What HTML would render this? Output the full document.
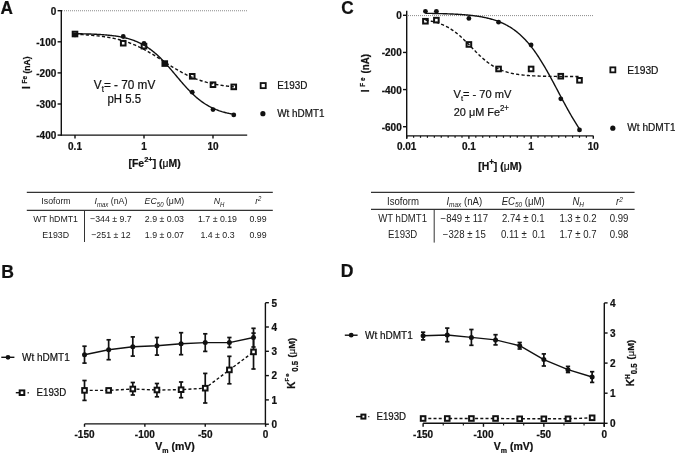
<!DOCTYPE html>
<html><head><meta charset="utf-8"><style>
html,body{margin:0;padding:0;background:#fff;}
svg{display:block;font-family:"Liberation Sans",sans-serif;will-change:transform;}
text{stroke:#111;stroke-width:0.22px;}
.tb{stroke:none;}
.rg{stroke-width:0.2px;}
</style></head><body>
<svg width="675" height="454" viewBox="0 0 675 454">
<rect width="675" height="454" fill="#fff"/>
<text x="0.60" y="0" transform="translate(0 14.30) scale(1 1.05)" font-size="17.2" text-anchor="start" font-weight="bold" fill="#111" >A</text>
<line x1="62.00" y1="10.75" x2="247.30" y2="10.75" stroke="#8a8a8a" stroke-width="1.0" stroke-dasharray="1,1"/>
<line x1="61.30" y1="10.00" x2="61.30" y2="135.70" stroke="#111" stroke-width="1.4" />
<line x1="60.70" y1="135.10" x2="247.20" y2="135.10" stroke="#111" stroke-width="1.4" />
<line x1="57.60" y1="10.70" x2="61.30" y2="10.70" stroke="#111" stroke-width="1.4" />
<text x="56.30" y="0" transform="translate(0 14.70) scale(1 1.05)" font-size="10" text-anchor="end" font-weight="bold" fill="#111" >0</text>
<line x1="57.60" y1="41.80" x2="61.30" y2="41.80" stroke="#111" stroke-width="1.4" />
<text x="56.30" y="0" transform="translate(0 45.80) scale(1 1.05)" font-size="10" text-anchor="end" font-weight="bold" fill="#111" >-100</text>
<line x1="57.60" y1="72.90" x2="61.30" y2="72.90" stroke="#111" stroke-width="1.4" />
<text x="56.30" y="0" transform="translate(0 76.90) scale(1 1.05)" font-size="10" text-anchor="end" font-weight="bold" fill="#111" >-200</text>
<line x1="57.60" y1="104.00" x2="61.30" y2="104.00" stroke="#111" stroke-width="1.4" />
<text x="56.30" y="0" transform="translate(0 108.00) scale(1 1.05)" font-size="10" text-anchor="end" font-weight="bold" fill="#111" >-300</text>
<line x1="57.60" y1="135.10" x2="61.30" y2="135.10" stroke="#111" stroke-width="1.4" />
<text x="56.30" y="0" transform="translate(0 139.10) scale(1 1.05)" font-size="10" text-anchor="end" font-weight="bold" fill="#111" >-400</text>
<line x1="75.00" y1="135.10" x2="75.00" y2="138.60" stroke="#111" stroke-width="1.4" />
<text x="75.00" y="0" transform="translate(0 150.00) scale(1 1.05)" font-size="10" text-anchor="middle" font-weight="bold" fill="#111" >0.1</text>
<line x1="144.00" y1="135.10" x2="144.00" y2="138.60" stroke="#111" stroke-width="1.4" />
<text x="144.00" y="0" transform="translate(0 150.00) scale(1 1.05)" font-size="10" text-anchor="middle" font-weight="bold" fill="#111" >1</text>
<line x1="213.00" y1="135.10" x2="213.00" y2="138.60" stroke="#111" stroke-width="1.4" />
<text x="213.00" y="0" transform="translate(0 150.00) scale(1 1.05)" font-size="10" text-anchor="middle" font-weight="bold" fill="#111" >10</text>
<text x="154.60" y="0" transform="translate(0 167.30) scale(1 1.05)" font-size="10.4" text-anchor="middle" font-weight="bold" fill="#111" >[Fe<tspan font-size="7.5" dy="-4.8">2+</tspan><tspan dy="4.8">] (<tspan font-weight="normal">μ</tspan>M)</tspan></text>
<text transform="translate(29.90,88.90) rotate(-90) scale(1 1.05)" font-size="9.7" font-weight="bold" fill="#111" >I</text>
<text transform="translate(27.00,83.40) rotate(-90) scale(1 1.05)" font-size="6.3" font-weight="bold" fill="#111" >Fe</text>
<text transform="translate(30.00,73.50) rotate(-90) scale(1 1.05)" font-size="8.5" font-weight="bold" fill="#111" >(nA)</text>
<path d="M75.00,33.68 L75.79,33.69 L76.59,33.70 L77.38,33.72 L78.18,33.73 L78.97,33.75 L79.76,33.76 L80.56,33.78 L81.35,33.79 L82.14,33.81 L82.94,33.83 L83.73,33.85 L84.53,33.87 L85.32,33.89 L86.11,33.91 L86.91,33.94 L87.70,33.96 L88.50,33.99 L89.29,34.02 L90.08,34.04 L90.88,34.07 L91.67,34.10 L92.46,34.14 L93.26,34.17 L94.05,34.20 L94.85,34.24 L95.64,34.28 L96.43,34.32 L97.23,34.36 L98.02,34.40 L98.82,34.45 L99.61,34.50 L100.40,34.55 L101.20,34.60 L101.99,34.65 L102.78,34.71 L103.58,34.77 L104.37,34.83 L105.17,34.89 L105.96,34.96 L106.75,35.03 L107.55,35.11 L108.34,35.18 L109.14,35.26 L109.93,35.35 L110.72,35.43 L111.52,35.52 L112.31,35.62 L113.11,35.72 L113.90,35.82 L114.69,35.93 L115.49,36.04 L116.28,36.16 L117.07,36.28 L117.87,36.41 L118.66,36.55 L119.46,36.68 L120.25,36.83 L121.04,36.98 L121.84,37.14 L122.63,37.30 L123.43,37.47 L124.22,37.65 L125.01,37.84 L125.81,38.03 L126.60,38.23 L127.39,38.44 L128.19,38.66 L128.98,38.88 L129.78,39.12 L130.57,39.36 L131.36,39.62 L132.16,39.88 L132.95,40.15 L133.75,40.44 L134.54,40.74 L135.33,41.04 L136.13,41.36 L136.92,41.69 L137.71,42.03 L138.51,42.39 L139.30,42.76 L140.10,43.14 L140.89,43.53 L141.68,43.94 L142.48,44.36 L143.27,44.80 L144.07,45.25 L144.86,45.72 L145.65,46.20 L146.45,46.69 L147.24,47.20 L148.03,47.73 L148.83,48.27 L149.62,48.83 L150.42,49.41 L151.21,50.00 L152.00,50.61 L152.80,51.23 L153.59,51.87 L154.39,52.53 L155.18,53.20 L155.97,53.89 L156.77,54.60 L157.56,55.32 L158.35,56.06 L159.15,56.81 L159.94,57.58 L160.74,58.36 L161.53,59.16 L162.32,59.97 L163.12,60.79 L163.91,61.63 L164.71,62.48 L165.50,63.34 L166.29,64.22 L167.09,65.10 L167.88,65.99 L168.67,66.90 L169.47,67.81 L170.26,68.72 L171.06,69.65 L171.85,70.58 L172.64,71.52 L173.44,72.45 L174.23,73.40 L175.03,74.34 L175.82,75.29 L176.61,76.23 L177.41,77.18 L178.20,78.12 L179.00,79.06 L179.79,79.99 L180.58,80.93 L181.38,81.85 L182.17,82.77 L182.96,83.68 L183.76,84.59 L184.55,85.48 L185.35,86.37 L186.14,87.24 L186.93,88.11 L187.73,88.96 L188.52,89.80 L189.32,90.63 L190.11,91.44 L190.90,92.24 L191.70,93.03 L192.49,93.80 L193.28,94.56 L194.08,95.30 L194.87,96.02 L195.67,96.73 L196.46,97.42 L197.25,98.10 L198.05,98.76 L198.84,99.41 L199.64,100.03 L200.43,100.65 L201.22,101.24 L202.02,101.82 L202.81,102.38 L203.60,102.93 L204.40,103.46 L205.19,103.97 L205.99,104.47 L206.78,104.96 L207.57,105.43 L208.37,105.88 L209.16,106.32 L209.96,106.75 L210.75,107.16 L211.54,107.55 L212.34,107.94 L213.13,108.31 L213.92,108.67 L214.72,109.01 L215.51,109.34 L216.31,109.67 L217.10,109.97 L217.89,110.27 L218.69,110.56 L219.48,110.84 L220.28,111.10 L221.07,111.36 L221.86,111.61 L222.66,111.84 L223.45,112.07 L224.24,112.29 L225.04,112.50 L225.83,112.70 L226.63,112.90 L227.42,113.09 L228.21,113.27 L229.01,113.44 L229.80,113.60 L230.60,113.76 L231.39,113.91 L232.18,114.06 L232.98,114.20 L233.77,114.34" fill="none" stroke="#111" stroke-width="1.4" stroke-linejoin="round"/>
<path d="M75.00,34.29 L75.79,34.32 L76.59,34.35 L77.38,34.39 L78.18,34.42 L78.97,34.46 L79.76,34.50 L80.56,34.54 L81.35,34.58 L82.14,34.63 L82.94,34.67 L83.73,34.72 L84.53,34.77 L85.32,34.82 L86.11,34.87 L86.91,34.93 L87.70,34.98 L88.50,35.04 L89.29,35.10 L90.08,35.16 L90.88,35.22 L91.67,35.29 L92.46,35.36 L93.26,35.43 L94.05,35.51 L94.85,35.58 L95.64,35.66 L96.43,35.74 L97.23,35.83 L98.02,35.91 L98.82,36.00 L99.61,36.10 L100.40,36.19 L101.20,36.29 L101.99,36.40 L102.78,36.50 L103.58,36.62 L104.37,36.73 L105.17,36.85 L105.96,36.97 L106.75,37.09 L107.55,37.22 L108.34,37.36 L109.14,37.50 L109.93,37.64 L110.72,37.79 L111.52,37.94 L112.31,38.10 L113.11,38.26 L113.90,38.43 L114.69,38.60 L115.49,38.77 L116.28,38.96 L117.07,39.14 L117.87,39.34 L118.66,39.54 L119.46,39.74 L120.25,39.95 L121.04,40.17 L121.84,40.40 L122.63,40.62 L123.43,40.86 L124.22,41.10 L125.01,41.35 L125.81,41.61 L126.60,41.87 L127.39,42.14 L128.19,42.42 L128.98,42.70 L129.78,42.99 L130.57,43.29 L131.36,43.59 L132.16,43.91 L132.95,44.22 L133.75,44.55 L134.54,44.88 L135.33,45.23 L136.13,45.57 L136.92,45.93 L137.71,46.29 L138.51,46.66 L139.30,47.04 L140.10,47.43 L140.89,47.82 L141.68,48.22 L142.48,48.62 L143.27,49.04 L144.07,49.46 L144.86,49.88 L145.65,50.31 L146.45,50.75 L147.24,51.20 L148.03,51.65 L148.83,52.10 L149.62,52.57 L150.42,53.03 L151.21,53.51 L152.00,53.98 L152.80,54.46 L153.59,54.95 L154.39,55.44 L155.18,55.93 L155.97,56.43 L156.77,56.93 L157.56,57.44 L158.35,57.94 L159.15,58.45 L159.94,58.96 L160.74,59.47 L161.53,59.98 L162.32,60.49 L163.12,61.01 L163.91,61.52 L164.71,62.03 L165.50,62.55 L166.29,63.06 L167.09,63.57 L167.88,64.07 L168.67,64.58 L169.47,65.08 L170.26,65.59 L171.06,66.08 L171.85,66.58 L172.64,67.07 L173.44,67.56 L174.23,68.04 L175.03,68.52 L175.82,68.99 L176.61,69.46 L177.41,69.93 L178.20,70.38 L179.00,70.84 L179.79,71.28 L180.58,71.72 L181.38,72.16 L182.17,72.59 L182.96,73.01 L183.76,73.42 L184.55,73.83 L185.35,74.23 L186.14,74.62 L186.93,75.01 L187.73,75.39 L188.52,75.76 L189.32,76.13 L190.11,76.49 L190.90,76.84 L191.70,77.18 L192.49,77.52 L193.28,77.84 L194.08,78.17 L194.87,78.48 L195.67,78.79 L196.46,79.09 L197.25,79.38 L198.05,79.66 L198.84,79.94 L199.64,80.21 L200.43,80.48 L201.22,80.74 L202.02,80.99 L202.81,81.23 L203.60,81.47 L204.40,81.70 L205.19,81.93 L205.99,82.15 L206.78,82.36 L207.57,82.57 L208.37,82.77 L209.16,82.96 L209.96,83.15 L210.75,83.34 L211.54,83.52 L212.34,83.69 L213.13,83.86 L213.92,84.02 L214.72,84.18 L215.51,84.33 L216.31,84.48 L217.10,84.63 L217.89,84.77 L218.69,84.90 L219.48,85.03 L220.28,85.16 L221.07,85.28 L221.86,85.40 L222.66,85.52 L223.45,85.63 L224.24,85.74 L225.04,85.84 L225.83,85.94 L226.63,86.04 L227.42,86.13 L228.21,86.22 L229.01,86.31 L229.80,86.40 L230.60,86.48 L231.39,86.56 L232.18,86.64 L232.98,86.71 L233.77,86.78" fill="none" stroke="#111" stroke-width="1.4" stroke-dasharray="3.2,2.2" stroke-linejoin="round"/>
<rect x="72.70" y="31.72" width="4.60" height="4.60" fill="none" stroke="#111" stroke-width="2.0"/>
<rect x="120.93" y="40.90" width="4.60" height="4.60" fill="none" stroke="#111" stroke-width="2.0"/>
<rect x="141.70" y="43.85" width="4.60" height="4.60" fill="none" stroke="#111" stroke-width="2.0"/>
<rect x="162.47" y="61.27" width="4.60" height="4.60" fill="none" stroke="#111" stroke-width="2.0"/>
<rect x="189.93" y="74.02" width="4.60" height="4.60" fill="none" stroke="#111" stroke-width="2.0"/>
<rect x="210.70" y="82.42" width="4.60" height="4.60" fill="none" stroke="#111" stroke-width="2.0"/>
<rect x="231.47" y="84.59" width="4.60" height="4.60" fill="none" stroke="#111" stroke-width="2.0"/>
<circle cx="75.00" cy="34.96" r="2.4" fill="#111"/>
<circle cx="123.23" cy="36.51" r="2.4" fill="#111"/>
<circle cx="144.00" cy="43.36" r="2.4" fill="#111"/>
<circle cx="164.77" cy="63.57" r="2.4" fill="#111"/>
<circle cx="192.23" cy="92.18" r="2.4" fill="#111"/>
<circle cx="213.00" cy="109.60" r="2.4" fill="#111"/>
<circle cx="233.77" cy="114.89" r="2.4" fill="#111"/>
<text x="93.80" y="0" transform="translate(0 88.50) scale(1 1.05)" font-size="11.8" text-anchor="start" class="rg" fill="#111" >V<tspan font-size="8" dy="3">t</tspan><tspan dy="-3">= - 70 mV</tspan></text>
<text x="107.50" y="0" transform="translate(0 103.20) scale(1 1.05)" font-size="11.4" text-anchor="start" class="rg" fill="#111" >pH 5.5</text>
<rect x="260.65" y="83.05" width="5.10" height="5.10" fill="none" stroke="#111" stroke-width="1.8"/>
<circle cx="262.90" cy="113.70" r="2.6" fill="#111"/>
<text x="277.20" y="0" transform="translate(0 88.80) scale(1 1.05)" font-size="9.9" text-anchor="start" class="rg" fill="#111" >E193D</text>
<text x="277.20" y="0" transform="translate(0 117.10) scale(1 1.05)" font-size="9.9" text-anchor="start" class="rg" fill="#111" >Wt hDMT1</text>
<text x="341.20" y="0" transform="translate(0 14.20) scale(1 1.05)" font-size="17.2" text-anchor="start" font-weight="bold" fill="#111" >C</text>
<line x1="408.00" y1="15.60" x2="593.30" y2="15.60" stroke="#8a8a8a" stroke-width="1.0" stroke-dasharray="1,1"/>
<line x1="406.70" y1="10.80" x2="406.70" y2="138.60" stroke="#111" stroke-width="1.4" />
<line x1="406.10" y1="135.90" x2="593.60" y2="135.90" stroke="#111" stroke-width="1.4" />
<line x1="403.00" y1="15.30" x2="406.70" y2="15.30" stroke="#111" stroke-width="1.4" />
<text x="401.70" y="0" transform="translate(0 19.30) scale(1 1.05)" font-size="10" text-anchor="end" font-weight="bold" fill="#111" >0</text>
<line x1="403.00" y1="52.44" x2="406.70" y2="52.44" stroke="#111" stroke-width="1.4" />
<text x="401.70" y="0" transform="translate(0 56.44) scale(1 1.05)" font-size="10" text-anchor="end" font-weight="bold" fill="#111" >-200</text>
<line x1="403.00" y1="89.58" x2="406.70" y2="89.58" stroke="#111" stroke-width="1.4" />
<text x="401.70" y="0" transform="translate(0 93.58) scale(1 1.05)" font-size="10" text-anchor="end" font-weight="bold" fill="#111" >-400</text>
<line x1="403.00" y1="126.72" x2="406.70" y2="126.72" stroke="#111" stroke-width="1.4" />
<text x="401.70" y="0" transform="translate(0 130.72) scale(1 1.05)" font-size="10" text-anchor="end" font-weight="bold" fill="#111" >-600</text>
<line x1="413.61" y1="135.90" x2="413.61" y2="137.80" stroke="#111" stroke-width="1.2" />
<line x1="420.52" y1="135.90" x2="420.52" y2="137.80" stroke="#111" stroke-width="1.2" />
<line x1="427.43" y1="135.90" x2="427.43" y2="137.80" stroke="#111" stroke-width="1.2" />
<line x1="434.34" y1="135.90" x2="434.34" y2="137.80" stroke="#111" stroke-width="1.2" />
<line x1="441.26" y1="135.90" x2="441.26" y2="137.80" stroke="#111" stroke-width="1.2" />
<line x1="448.17" y1="135.90" x2="448.17" y2="137.80" stroke="#111" stroke-width="1.2" />
<line x1="455.08" y1="135.90" x2="455.08" y2="137.80" stroke="#111" stroke-width="1.2" />
<line x1="461.99" y1="135.90" x2="461.99" y2="137.80" stroke="#111" stroke-width="1.2" />
<line x1="475.81" y1="135.90" x2="475.81" y2="137.80" stroke="#111" stroke-width="1.2" />
<line x1="482.72" y1="135.90" x2="482.72" y2="137.80" stroke="#111" stroke-width="1.2" />
<line x1="489.63" y1="135.90" x2="489.63" y2="137.80" stroke="#111" stroke-width="1.2" />
<line x1="496.54" y1="135.90" x2="496.54" y2="137.80" stroke="#111" stroke-width="1.2" />
<line x1="503.46" y1="135.90" x2="503.46" y2="137.80" stroke="#111" stroke-width="1.2" />
<line x1="510.37" y1="135.90" x2="510.37" y2="137.80" stroke="#111" stroke-width="1.2" />
<line x1="517.28" y1="135.90" x2="517.28" y2="137.80" stroke="#111" stroke-width="1.2" />
<line x1="524.19" y1="135.90" x2="524.19" y2="137.80" stroke="#111" stroke-width="1.2" />
<line x1="538.01" y1="135.90" x2="538.01" y2="137.80" stroke="#111" stroke-width="1.2" />
<line x1="544.92" y1="135.90" x2="544.92" y2="137.80" stroke="#111" stroke-width="1.2" />
<line x1="551.83" y1="135.90" x2="551.83" y2="137.80" stroke="#111" stroke-width="1.2" />
<line x1="558.74" y1="135.90" x2="558.74" y2="137.80" stroke="#111" stroke-width="1.2" />
<line x1="565.66" y1="135.90" x2="565.66" y2="137.80" stroke="#111" stroke-width="1.2" />
<line x1="572.57" y1="135.90" x2="572.57" y2="137.80" stroke="#111" stroke-width="1.2" />
<line x1="579.48" y1="135.90" x2="579.48" y2="137.80" stroke="#111" stroke-width="1.2" />
<line x1="586.39" y1="135.90" x2="586.39" y2="137.80" stroke="#111" stroke-width="1.2" />
<line x1="406.70" y1="135.90" x2="406.70" y2="138.80" stroke="#111" stroke-width="1.4" />
<text x="406.70" y="0" transform="translate(0 150.40) scale(1 1.05)" font-size="10" text-anchor="middle" font-weight="bold" fill="#111" >0.01</text>
<line x1="468.90" y1="135.90" x2="468.90" y2="138.80" stroke="#111" stroke-width="1.4" />
<text x="468.90" y="0" transform="translate(0 150.40) scale(1 1.05)" font-size="10" text-anchor="middle" font-weight="bold" fill="#111" >0.1</text>
<line x1="531.10" y1="135.90" x2="531.10" y2="138.80" stroke="#111" stroke-width="1.4" />
<text x="531.10" y="0" transform="translate(0 150.40) scale(1 1.05)" font-size="10" text-anchor="middle" font-weight="bold" fill="#111" >1</text>
<line x1="593.30" y1="135.90" x2="593.30" y2="138.80" stroke="#111" stroke-width="1.4" />
<text x="593.30" y="0" transform="translate(0 150.40) scale(1 1.05)" font-size="10" text-anchor="middle" font-weight="bold" fill="#111" >10</text>
<text x="500.00" y="0" transform="translate(0 170.00) scale(1 1.05)" font-size="10.4" text-anchor="middle" font-weight="bold" fill="#111" >[H<tspan font-size="8" dy="-5">+</tspan><tspan dy="5">] (<tspan font-weight="normal">μ</tspan>M)</tspan></text>
<text transform="translate(368.50,92.20) rotate(-90) scale(1 1.05)" font-size="10.2" font-weight="bold" fill="#111" >I</text>
<text transform="translate(364.60,86.70) rotate(-90) scale(1 1.05)" font-size="6.3" font-weight="bold" letter-spacing="1.8" fill="#111" >Fe</text>
<text transform="translate(369.20,73.50) rotate(-90) scale(1 1.05)" font-size="9.8" font-weight="bold" fill="#111" >(nA)</text>
<path d="M425.42,13.33 L426.19,13.34 L426.96,13.35 L427.74,13.37 L428.51,13.38 L429.28,13.39 L430.05,13.40 L430.82,13.41 L431.59,13.42 L432.36,13.44 L433.13,13.45 L433.90,13.47 L434.67,13.48 L435.44,13.50 L436.21,13.51 L436.98,13.53 L437.75,13.55 L438.52,13.56 L439.29,13.58 L440.06,13.60 L440.83,13.62 L441.60,13.64 L442.37,13.66 L443.14,13.69 L443.91,13.71 L444.68,13.73 L445.45,13.76 L446.22,13.78 L446.99,13.81 L447.77,13.84 L448.54,13.87 L449.31,13.90 L450.08,13.93 L450.85,13.96 L451.62,13.99 L452.39,14.03 L453.16,14.06 L453.93,14.10 L454.70,14.14 L455.47,14.18 L456.24,14.22 L457.01,14.27 L457.78,14.31 L458.55,14.36 L459.32,14.40 L460.09,14.45 L460.86,14.51 L461.63,14.56 L462.40,14.62 L463.17,14.67 L463.94,14.73 L464.71,14.79 L465.48,14.86 L466.25,14.93 L467.02,15.00 L467.80,15.07 L468.57,15.14 L469.34,15.22 L470.11,15.30 L470.88,15.38 L471.65,15.47 L472.42,15.56 L473.19,15.65 L473.96,15.74 L474.73,15.84 L475.50,15.95 L476.27,16.05 L477.04,16.16 L477.81,16.28 L478.58,16.40 L479.35,16.52 L480.12,16.65 L480.89,16.78 L481.66,16.91 L482.43,17.06 L483.20,17.20 L483.97,17.35 L484.74,17.51 L485.51,17.67 L486.28,17.84 L487.05,18.02 L487.83,18.20 L488.60,18.39 L489.37,18.58 L490.14,18.78 L490.91,18.99 L491.68,19.20 L492.45,19.42 L493.22,19.65 L493.99,19.89 L494.76,20.14 L495.53,20.39 L496.30,20.66 L497.07,20.93 L497.84,21.21 L498.61,21.50 L499.38,21.80 L500.15,22.11 L500.92,22.43 L501.69,22.76 L502.46,23.11 L503.23,23.46 L504.00,23.83 L504.77,24.20 L505.54,24.59 L506.31,25.00 L507.08,25.41 L507.86,25.84 L508.63,26.28 L509.40,26.74 L510.17,27.21 L510.94,27.69 L511.71,28.19 L512.48,28.71 L513.25,29.24 L514.02,29.78 L514.79,30.34 L515.56,30.92 L516.33,31.52 L517.10,32.13 L517.87,32.76 L518.64,33.41 L519.41,34.07 L520.18,34.76 L520.95,35.46 L521.72,36.18 L522.49,36.92 L523.26,37.68 L524.03,38.46 L524.80,39.26 L525.57,40.08 L526.34,40.92 L527.11,41.78 L527.89,42.66 L528.66,43.57 L529.43,44.49 L530.20,45.43 L530.97,46.39 L531.74,47.38 L532.51,48.38 L533.28,49.41 L534.05,50.46 L534.82,51.53 L535.59,52.61 L536.36,53.72 L537.13,54.85 L537.90,56.00 L538.67,57.17 L539.44,58.35 L540.21,59.56 L540.98,60.78 L541.75,62.03 L542.52,63.29 L543.29,64.56 L544.06,65.86 L544.83,67.17 L545.60,68.49 L546.37,69.83 L547.14,71.19 L547.92,72.55 L548.69,73.93 L549.46,75.32 L550.23,76.73 L551.00,78.14 L551.77,79.56 L552.54,80.99 L553.31,82.42 L554.08,83.87 L554.85,85.32 L555.62,86.77 L556.39,88.23 L557.16,89.69 L557.93,91.15 L558.70,92.61 L559.47,94.07 L560.24,95.53 L561.01,96.98 L561.78,98.44 L562.55,99.89 L563.32,101.33 L564.09,102.77 L564.86,104.20 L565.63,105.62 L566.40,107.03 L567.17,108.43 L567.95,109.82 L568.72,111.20 L569.49,112.57 L570.26,113.93 L571.03,115.27 L571.80,116.59 L572.57,117.90 L573.34,119.20 L574.11,120.47 L574.88,121.73 L575.65,122.98 L576.42,124.20 L577.19,125.41 L577.96,126.60 L578.73,127.77 L579.50,128.91" fill="none" stroke="#111" stroke-width="1.4" stroke-linejoin="round"/>
<path d="M425.42,20.11 L426.19,20.23 L426.96,20.36 L427.74,20.49 L428.51,20.62 L429.28,20.77 L430.05,20.92 L430.82,21.08 L431.59,21.25 L432.36,21.42 L433.13,21.60 L433.90,21.80 L434.67,22.00 L435.44,22.21 L436.21,22.43 L436.98,22.66 L437.75,22.91 L438.52,23.16 L439.29,23.43 L440.06,23.70 L440.83,23.99 L441.60,24.30 L442.37,24.61 L443.14,24.94 L443.91,25.28 L444.68,25.64 L445.45,26.01 L446.22,26.40 L446.99,26.80 L447.77,27.21 L448.54,27.65 L449.31,28.10 L450.08,28.56 L450.85,29.04 L451.62,29.54 L452.39,30.05 L453.16,30.58 L453.93,31.13 L454.70,31.69 L455.47,32.27 L456.24,32.87 L457.01,33.48 L457.78,34.11 L458.55,34.75 L459.32,35.41 L460.09,36.08 L460.86,36.77 L461.63,37.47 L462.40,38.18 L463.17,38.91 L463.94,39.65 L464.71,40.39 L465.48,41.15 L466.25,41.91 L467.02,42.69 L467.80,43.46 L468.57,44.25 L469.34,45.04 L470.11,45.83 L470.88,46.62 L471.65,47.42 L472.42,48.21 L473.19,49.01 L473.96,49.80 L474.73,50.58 L475.50,51.37 L476.27,52.14 L477.04,52.91 L477.81,53.67 L478.58,54.42 L479.35,55.17 L480.12,55.90 L480.89,56.62 L481.66,57.32 L482.43,58.02 L483.20,58.70 L483.97,59.37 L484.74,60.02 L485.51,60.65 L486.28,61.28 L487.05,61.88 L487.83,62.47 L488.60,63.04 L489.37,63.60 L490.14,64.14 L490.91,64.66 L491.68,65.17 L492.45,65.66 L493.22,66.13 L493.99,66.59 L494.76,67.03 L495.53,67.45 L496.30,67.86 L497.07,68.26 L497.84,68.64 L498.61,69.00 L499.38,69.35 L500.15,69.69 L500.92,70.01 L501.69,70.32 L502.46,70.62 L503.23,70.90 L504.00,71.17 L504.77,71.44 L505.54,71.68 L506.31,71.92 L507.08,72.15 L507.86,72.37 L508.63,72.57 L509.40,72.77 L510.17,72.96 L510.94,73.14 L511.71,73.31 L512.48,73.47 L513.25,73.63 L514.02,73.78 L514.79,73.92 L515.56,74.05 L516.33,74.18 L517.10,74.30 L517.87,74.42 L518.64,74.53 L519.41,74.63 L520.18,74.73 L520.95,74.83 L521.72,74.92 L522.49,75.00 L523.26,75.08 L524.03,75.16 L524.80,75.23 L525.57,75.30 L526.34,75.37 L527.11,75.43 L527.89,75.49 L528.66,75.55 L529.43,75.60 L530.20,75.65 L530.97,75.70 L531.74,75.75 L532.51,75.79 L533.28,75.83 L534.05,75.87 L534.82,75.91 L535.59,75.94 L536.36,75.98 L537.13,76.01 L537.90,76.04 L538.67,76.07 L539.44,76.09 L540.21,76.12 L540.98,76.14 L541.75,76.17 L542.52,76.19 L543.29,76.21 L544.06,76.23 L544.83,76.25 L545.60,76.26 L546.37,76.28 L547.14,76.30 L547.92,76.31 L548.69,76.33 L549.46,76.34 L550.23,76.35 L551.00,76.36 L551.77,76.37 L552.54,76.39 L553.31,76.40 L554.08,76.41 L554.85,76.41 L555.62,76.42 L556.39,76.43 L557.16,76.44 L557.93,76.45 L558.70,76.45 L559.47,76.46 L560.24,76.47 L561.01,76.47 L561.78,76.48 L562.55,76.48 L563.32,76.49 L564.09,76.49 L564.86,76.50 L565.63,76.50 L566.40,76.51 L567.17,76.51 L567.95,76.51 L568.72,76.52 L569.49,76.52 L570.26,76.52 L571.03,76.53 L571.80,76.53 L572.57,76.53 L573.34,76.54 L574.11,76.54 L574.88,76.54 L575.65,76.54 L576.42,76.54 L577.19,76.55 L577.96,76.55 L578.73,76.55 L579.50,76.55" fill="none" stroke="#111" stroke-width="1.4" stroke-dasharray="3.2,2.2" stroke-linejoin="round"/>
<circle cx="425.42" cy="11.31" r="2.4" fill="#111"/>
<circle cx="436.38" cy="11.31" r="2.4" fill="#111"/>
<circle cx="468.90" cy="18.40" r="2.4" fill="#111"/>
<circle cx="498.58" cy="22.17" r="2.4" fill="#111"/>
<circle cx="531.10" cy="45.01" r="2.4" fill="#111"/>
<circle cx="560.78" cy="98.86" r="2.4" fill="#111"/>
<circle cx="579.50" cy="129.88" r="2.4" fill="#111"/>
<rect x="423.12" y="18.94" width="4.60" height="4.60" fill="none" stroke="#111" stroke-width="2.0"/>
<rect x="434.08" y="17.83" width="4.60" height="4.60" fill="none" stroke="#111" stroke-width="2.0"/>
<rect x="466.60" y="42.15" width="4.60" height="4.60" fill="none" stroke="#111" stroke-width="2.0"/>
<rect x="496.28" y="66.67" width="4.60" height="4.60" fill="none" stroke="#111" stroke-width="2.0"/>
<rect x="528.80" y="66.67" width="4.60" height="4.60" fill="none" stroke="#111" stroke-width="2.0"/>
<rect x="558.48" y="73.91" width="4.60" height="4.60" fill="none" stroke="#111" stroke-width="2.0"/>
<rect x="577.20" y="78.00" width="4.60" height="4.60" fill="none" stroke="#111" stroke-width="2.0"/>
<text x="453.50" y="0" transform="translate(0 98.10) scale(1 1.05)" font-size="11.1" text-anchor="start" class="rg" fill="#111" >V<tspan font-size="7.6" dy="3">t</tspan><tspan dy="-3">= - 70 mV</tspan></text>
<text x="453.80" y="0" transform="translate(0 115.80) scale(1 1.05)" font-size="10.9" text-anchor="start" class="rg" fill="#111" >20 μM Fe<tspan font-size="7.9" dy="-4.4">2+</tspan></text>
<rect x="610.35" y="67.35" width="5.00" height="5.00" fill="none" stroke="#111" stroke-width="1.8"/>
<circle cx="612.80" cy="128.20" r="2.6" fill="#111"/>
<text x="627.30" y="0" transform="translate(0 73.50) scale(1 1.05)" font-size="10.2" text-anchor="start" class="rg" fill="#111" >E193D</text>
<text x="627.30" y="0" transform="translate(0 131.30) scale(1 1.05)" font-size="10.1" text-anchor="start" class="rg" fill="#111" >Wt hDMT1</text>
<line x1="26.80" y1="192.30" x2="272.80" y2="192.30" stroke="#333" stroke-width="1.2" />
<line x1="26.80" y1="210.30" x2="272.80" y2="210.30" stroke="#333" stroke-width="1.2" />
<line x1="84.50" y1="210.30" x2="84.50" y2="242.00" stroke="#333" stroke-width="1.0" />
<text x="56.00" y="0" transform="translate(0 204.40) scale(1 1.05)" font-size="8.8" text-anchor="middle" fill="#222" class="tb">Isoform</text>
<text x="111.00" y="0" transform="translate(0 204.40) scale(1 1.05)" font-size="8.8" text-anchor="middle" fill="#222" class="tb"><tspan font-style="italic">I<tspan font-size="6" dy="2">max</tspan></tspan><tspan dy="-2"> (nA)</tspan></text>
<text x="164.40" y="0" transform="translate(0 204.40) scale(1 1.05)" font-size="8.8" text-anchor="middle" fill="#222" class="tb"><tspan font-style="italic">EC<tspan font-size="6" dy="2">50</tspan></tspan><tspan dy="-2"> (μM)</tspan></text>
<text x="219.00" y="0" transform="translate(0 204.40) scale(1 1.05)" font-size="8.8" text-anchor="middle" fill="#222" class="tb"><tspan font-style="italic">N<tspan font-size="6" dy="2">H</tspan></tspan></text>
<text x="258.30" y="0" transform="translate(0 204.40) scale(1 1.05)" font-size="8.8" text-anchor="middle" fill="#222" class="tb"><tspan font-style="italic">r<tspan font-size="6" dy="-3">2</tspan></tspan></text>
<text x="55.60" y="0" transform="translate(0 222.20) scale(1 1.05)" font-size="8.8" text-anchor="middle" fill="#222" class="tb">WT hDMT1</text>
<text x="55.60" y="0" transform="translate(0 238.40) scale(1 1.05)" font-size="8.8" text-anchor="middle" fill="#222" class="tb">E193D</text>
<text x="110.90" y="0" transform="translate(0 222.20) scale(1 1.05)" font-size="8.8" text-anchor="middle" fill="#222" class="tb">−344 ± 9.7</text>
<text x="110.90" y="0" transform="translate(0 238.40) scale(1 1.05)" font-size="8.8" text-anchor="middle" fill="#222" class="tb">−251 ± 12</text>
<text x="164.40" y="0" transform="translate(0 222.20) scale(1 1.05)" font-size="8.8" text-anchor="middle" fill="#222" class="tb">2.9 ± 0.03</text>
<text x="164.40" y="0" transform="translate(0 238.40) scale(1 1.05)" font-size="8.8" text-anchor="middle" fill="#222" class="tb">1.9 ± 0.07</text>
<text x="217.50" y="0" transform="translate(0 222.20) scale(1 1.05)" font-size="8.8" text-anchor="middle" fill="#222" class="tb">1.7 ± 0.19</text>
<text x="217.50" y="0" transform="translate(0 238.40) scale(1 1.05)" font-size="8.8" text-anchor="middle" fill="#222" class="tb">1.4 ± 0.3</text>
<text x="258.00" y="0" transform="translate(0 222.20) scale(1 1.05)" font-size="8.8" text-anchor="middle" fill="#222" class="tb">0.99</text>
<text x="258.00" y="0" transform="translate(0 238.40) scale(1 1.05)" font-size="8.8" text-anchor="middle" fill="#222" class="tb">0.99</text>
<line x1="371.00" y1="192.30" x2="634.60" y2="192.30" stroke="#333" stroke-width="1.2" />
<line x1="371.00" y1="209.30" x2="634.60" y2="209.30" stroke="#333" stroke-width="1.2" />
<line x1="434.20" y1="209.30" x2="434.20" y2="242.60" stroke="#333" stroke-width="1.0" />
<text x="403.00" y="0" transform="translate(0 205.20) scale(1 1.05)" font-size="9.6" text-anchor="middle" fill="#222" class="tb">Isoform</text>
<text x="464.30" y="0" transform="translate(0 205.20) scale(1 1.05)" font-size="9.6" text-anchor="middle" fill="#222" class="tb"><tspan font-style="italic">I<tspan font-size="6.5" dy="2">max</tspan></tspan><tspan dy="-2"> (nA)</tspan></text>
<text x="523.20" y="0" transform="translate(0 205.20) scale(1 1.05)" font-size="9.6" text-anchor="middle" fill="#222" class="tb"><tspan font-style="italic">EC<tspan font-size="6.5" dy="2">50</tspan></tspan><tspan dy="-2"> (μM)</tspan></text>
<text x="578.20" y="0" transform="translate(0 205.20) scale(1 1.05)" font-size="9.6" text-anchor="middle" fill="#222" class="tb"><tspan font-style="italic">N<tspan font-size="6.5" dy="2">H</tspan></tspan></text>
<text x="619.40" y="0" transform="translate(0 205.20) scale(1 1.05)" font-size="9.6" text-anchor="middle" fill="#222" class="tb"><tspan font-style="italic">r<tspan font-size="6.5" dy="-3">2</tspan></tspan></text>
<text x="402.60" y="0" transform="translate(0 221.80) scale(1 1.05)" font-size="9.6" text-anchor="middle" fill="#222" class="tb">WT hDMT1</text>
<text x="402.60" y="0" transform="translate(0 238.30) scale(1 1.05)" font-size="9.6" text-anchor="middle" fill="#222" class="tb">E193D</text>
<text x="464.30" y="0" transform="translate(0 221.80) scale(1 1.05)" font-size="9.6" text-anchor="middle" fill="#222" class="tb">−849 ± 117</text>
<text x="464.30" y="0" transform="translate(0 238.30) scale(1 1.05)" font-size="9.6" text-anchor="middle" fill="#222" class="tb">−328 ± 15</text>
<text x="523.20" y="0" transform="translate(0 221.80) scale(1 1.05)" font-size="9.6" text-anchor="middle" fill="#222" class="tb">2.74 ± 0.1</text>
<text x="523.20" y="0" transform="translate(0 238.30) scale(1 1.05)" font-size="9.6" text-anchor="middle" fill="#222" class="tb">0.11 ±&#160; 0.1</text>
<text x="578.00" y="0" transform="translate(0 221.80) scale(1 1.05)" font-size="9.6" text-anchor="middle" fill="#222" class="tb">1.3 ± 0.2</text>
<text x="578.00" y="0" transform="translate(0 238.30) scale(1 1.05)" font-size="9.6" text-anchor="middle" fill="#222" class="tb">1.7 ± 0.7</text>
<text x="619.00" y="0" transform="translate(0 221.80) scale(1 1.05)" font-size="9.6" text-anchor="middle" fill="#222" class="tb">0.99</text>
<text x="619.00" y="0" transform="translate(0 238.30) scale(1 1.05)" font-size="9.6" text-anchor="middle" fill="#222" class="tb">0.98</text>
<text x="1.20" y="0" transform="translate(0 277.60) scale(1 1.05)" font-size="17.6" text-anchor="start" font-weight="bold" fill="#111" >B</text>
<line x1="265.40" y1="302.90" x2="265.40" y2="424.20" stroke="#111" stroke-width="1.4" />
<line x1="84.51" y1="423.90" x2="266.00" y2="423.90" stroke="#111" stroke-width="1.4" />
<line x1="265.40" y1="424.20" x2="268.90" y2="424.20" stroke="#111" stroke-width="1.4" />
<text x="271.60" y="0" transform="translate(0 428.00) scale(1 1.05)" font-size="10" text-anchor="start" font-weight="bold" fill="#111" >0</text>
<line x1="265.40" y1="399.90" x2="268.90" y2="399.90" stroke="#111" stroke-width="1.4" />
<text x="271.60" y="0" transform="translate(0 403.70) scale(1 1.05)" font-size="10" text-anchor="start" font-weight="bold" fill="#111" >1</text>
<line x1="265.40" y1="375.60" x2="268.90" y2="375.60" stroke="#111" stroke-width="1.4" />
<text x="271.60" y="0" transform="translate(0 379.40) scale(1 1.05)" font-size="10" text-anchor="start" font-weight="bold" fill="#111" >2</text>
<line x1="265.40" y1="351.30" x2="268.90" y2="351.30" stroke="#111" stroke-width="1.4" />
<text x="271.60" y="0" transform="translate(0 355.10) scale(1 1.05)" font-size="10" text-anchor="start" font-weight="bold" fill="#111" >3</text>
<line x1="265.40" y1="327.00" x2="268.90" y2="327.00" stroke="#111" stroke-width="1.4" />
<text x="271.60" y="0" transform="translate(0 330.80) scale(1 1.05)" font-size="10" text-anchor="start" font-weight="bold" fill="#111" >4</text>
<line x1="265.40" y1="302.70" x2="268.90" y2="302.70" stroke="#111" stroke-width="1.4" />
<text x="271.60" y="0" transform="translate(0 306.50) scale(1 1.05)" font-size="10" text-anchor="start" font-weight="bold" fill="#111" >5</text>
<line x1="84.51" y1="423.90" x2="84.51" y2="426.80" stroke="#111" stroke-width="1.4" />
<text x="84.51" y="0" transform="translate(0 437.80) scale(1 1.05)" font-size="10" text-anchor="middle" font-weight="bold" fill="#111" >-150</text>
<line x1="144.87" y1="423.90" x2="144.87" y2="426.80" stroke="#111" stroke-width="1.4" />
<text x="144.87" y="0" transform="translate(0 437.80) scale(1 1.05)" font-size="10" text-anchor="middle" font-weight="bold" fill="#111" >-100</text>
<line x1="205.24" y1="423.90" x2="205.24" y2="426.80" stroke="#111" stroke-width="1.4" />
<text x="205.24" y="0" transform="translate(0 437.80) scale(1 1.05)" font-size="10" text-anchor="middle" font-weight="bold" fill="#111" >-50</text>
<line x1="265.60" y1="423.90" x2="265.60" y2="426.80" stroke="#111" stroke-width="1.4" />
<text x="265.60" y="0" transform="translate(0 437.80) scale(1 1.05)" font-size="10" text-anchor="middle" font-weight="bold" fill="#111" >0</text>
<text x="175.00" y="0" transform="translate(0 450.40) scale(1 1.05)" font-size="10.5" text-anchor="middle" font-weight="bold" fill="#111" >V<tspan font-size="7" dy="2.5">m</tspan><tspan dy="-2.5"> (mV)</tspan></text>
<text transform="translate(295.00,388.70) rotate(-90) scale(1 1.05)" font-size="9.9" font-weight="bold" fill="#111" >K</text>
<text transform="translate(288.80,381.40) rotate(-90) scale(1 1.05)" font-size="5.8" font-weight="bold" letter-spacing="1.2" fill="#111" >Fe</text>
<text transform="translate(298.00,371.80) rotate(-90) scale(1 1.05)" font-size="7.8" font-weight="bold" fill="#111" >0.5</text>
<text transform="translate(295.20,357.50) rotate(-90) scale(1 1.05)" font-size="9.5" font-weight="bold" fill="#111" >(<tspan font-weight="normal">μ</tspan>M)</text>
<line x1="84.51" y1="346.20" x2="84.51" y2="363.10" stroke="#111" stroke-width="1.7" />
<line x1="82.36" y1="346.20" x2="86.66" y2="346.20" stroke="#111" stroke-width="1.7" />
<line x1="82.36" y1="363.10" x2="86.66" y2="363.10" stroke="#111" stroke-width="1.7" />
<line x1="108.65" y1="339.80" x2="108.65" y2="359.70" stroke="#111" stroke-width="1.7" />
<line x1="106.50" y1="339.80" x2="110.80" y2="339.80" stroke="#111" stroke-width="1.7" />
<line x1="106.50" y1="359.70" x2="110.80" y2="359.70" stroke="#111" stroke-width="1.7" />
<line x1="132.80" y1="336.90" x2="132.80" y2="356.10" stroke="#111" stroke-width="1.7" />
<line x1="130.65" y1="336.90" x2="134.95" y2="336.90" stroke="#111" stroke-width="1.7" />
<line x1="130.65" y1="356.10" x2="134.95" y2="356.10" stroke="#111" stroke-width="1.7" />
<line x1="156.94" y1="337.50" x2="156.94" y2="355.10" stroke="#111" stroke-width="1.7" />
<line x1="154.79" y1="337.50" x2="159.09" y2="337.50" stroke="#111" stroke-width="1.7" />
<line x1="154.79" y1="355.10" x2="159.09" y2="355.10" stroke="#111" stroke-width="1.7" />
<line x1="181.09" y1="332.70" x2="181.09" y2="354.70" stroke="#111" stroke-width="1.7" />
<line x1="178.94" y1="332.70" x2="183.24" y2="332.70" stroke="#111" stroke-width="1.7" />
<line x1="178.94" y1="354.70" x2="183.24" y2="354.70" stroke="#111" stroke-width="1.7" />
<line x1="205.24" y1="333.80" x2="205.24" y2="351.40" stroke="#111" stroke-width="1.7" />
<line x1="203.09" y1="333.80" x2="207.39" y2="333.80" stroke="#111" stroke-width="1.7" />
<line x1="203.09" y1="351.40" x2="207.39" y2="351.40" stroke="#111" stroke-width="1.7" />
<line x1="229.38" y1="337.50" x2="229.38" y2="347.40" stroke="#111" stroke-width="1.7" />
<line x1="227.23" y1="337.50" x2="231.53" y2="337.50" stroke="#111" stroke-width="1.7" />
<line x1="227.23" y1="347.40" x2="231.53" y2="347.40" stroke="#111" stroke-width="1.7" />
<line x1="253.53" y1="328.30" x2="253.53" y2="347.00" stroke="#111" stroke-width="1.7" />
<line x1="251.38" y1="328.30" x2="255.68" y2="328.30" stroke="#111" stroke-width="1.7" />
<line x1="251.38" y1="347.00" x2="255.68" y2="347.00" stroke="#111" stroke-width="1.7" />
<line x1="84.51" y1="380.50" x2="84.51" y2="400.40" stroke="#111" stroke-width="1.7" />
<line x1="82.36" y1="380.50" x2="86.66" y2="380.50" stroke="#111" stroke-width="1.7" />
<line x1="82.36" y1="400.40" x2="86.66" y2="400.40" stroke="#111" stroke-width="1.7" />
<line x1="132.80" y1="382.50" x2="132.80" y2="395.00" stroke="#111" stroke-width="1.7" />
<line x1="130.65" y1="382.50" x2="134.95" y2="382.50" stroke="#111" stroke-width="1.7" />
<line x1="130.65" y1="395.00" x2="134.95" y2="395.00" stroke="#111" stroke-width="1.7" />
<line x1="156.94" y1="383.50" x2="156.94" y2="396.80" stroke="#111" stroke-width="1.7" />
<line x1="154.79" y1="383.50" x2="159.09" y2="383.50" stroke="#111" stroke-width="1.7" />
<line x1="154.79" y1="396.80" x2="159.09" y2="396.80" stroke="#111" stroke-width="1.7" />
<line x1="181.09" y1="382.00" x2="181.09" y2="397.70" stroke="#111" stroke-width="1.7" />
<line x1="178.94" y1="382.00" x2="183.24" y2="382.00" stroke="#111" stroke-width="1.7" />
<line x1="178.94" y1="397.70" x2="183.24" y2="397.70" stroke="#111" stroke-width="1.7" />
<line x1="205.24" y1="373.40" x2="205.24" y2="403.00" stroke="#111" stroke-width="1.7" />
<line x1="203.09" y1="373.40" x2="207.39" y2="373.40" stroke="#111" stroke-width="1.7" />
<line x1="203.09" y1="403.00" x2="207.39" y2="403.00" stroke="#111" stroke-width="1.7" />
<line x1="229.38" y1="356.30" x2="229.38" y2="383.80" stroke="#111" stroke-width="1.7" />
<line x1="227.23" y1="356.30" x2="231.53" y2="356.30" stroke="#111" stroke-width="1.7" />
<line x1="227.23" y1="383.80" x2="231.53" y2="383.80" stroke="#111" stroke-width="1.7" />
<line x1="253.53" y1="333.10" x2="253.53" y2="369.00" stroke="#111" stroke-width="1.7" />
<line x1="251.38" y1="333.10" x2="255.68" y2="333.10" stroke="#111" stroke-width="1.7" />
<line x1="251.38" y1="369.00" x2="255.68" y2="369.00" stroke="#111" stroke-width="1.7" />
<path d="M84.51,354.70 L108.65,349.80 L132.80,346.80 L156.94,345.80 L181.09,343.70 L205.24,342.60 L229.38,342.60 L253.53,337.50" fill="none" stroke="#111" stroke-width="1.4" stroke-linejoin="round"/>
<path d="M84.51,390.40 L108.65,390.40 L132.80,389.00 L156.94,390.00 L181.09,389.70 L205.24,388.20 L229.38,369.90 L253.53,351.90" fill="none" stroke="#111" stroke-width="1.4" stroke-dasharray="3,2.2" stroke-linejoin="round"/>
<circle cx="84.51" cy="354.70" r="2.5" fill="#111"/>
<circle cx="108.65" cy="349.80" r="2.5" fill="#111"/>
<circle cx="132.80" cy="346.80" r="2.5" fill="#111"/>
<circle cx="156.94" cy="345.80" r="2.5" fill="#111"/>
<circle cx="181.09" cy="343.70" r="2.5" fill="#111"/>
<circle cx="205.24" cy="342.60" r="2.5" fill="#111"/>
<circle cx="229.38" cy="342.60" r="2.5" fill="#111"/>
<circle cx="253.53" cy="337.50" r="2.5" fill="#111"/>
<rect x="82.21" y="388.10" width="4.60" height="4.60" fill="#fff" stroke="#111" stroke-width="2.0"/>
<rect x="106.35" y="388.10" width="4.60" height="4.60" fill="#fff" stroke="#111" stroke-width="2.0"/>
<rect x="130.50" y="386.70" width="4.60" height="4.60" fill="#fff" stroke="#111" stroke-width="2.0"/>
<rect x="154.64" y="387.70" width="4.60" height="4.60" fill="#fff" stroke="#111" stroke-width="2.0"/>
<rect x="178.79" y="387.40" width="4.60" height="4.60" fill="#fff" stroke="#111" stroke-width="2.0"/>
<rect x="202.94" y="385.90" width="4.60" height="4.60" fill="#fff" stroke="#111" stroke-width="2.0"/>
<rect x="227.08" y="367.60" width="4.60" height="4.60" fill="#fff" stroke="#111" stroke-width="2.0"/>
<rect x="251.23" y="349.60" width="4.60" height="4.60" fill="#fff" stroke="#111" stroke-width="2.0"/>
<line x1="1.30" y1="357.30" x2="14.40" y2="357.30" stroke="#111" stroke-width="1.4" />
<circle cx="8.00" cy="357.30" r="2.4" fill="#111"/>
<text x="22.00" y="0" transform="translate(0 360.80) scale(1 1.05)" font-size="10" text-anchor="start" class="rg" fill="#111" >Wt hDMT1</text>
<line x1="15.80" y1="392.70" x2="20.00" y2="392.70" stroke="#111" stroke-width="1.4" />
<rect x="19.70" y="390.40" width="4.60" height="4.60" fill="#fff" stroke="#111" stroke-width="2.0"/>
<line x1="27.60" y1="392.70" x2="28.80" y2="392.70" stroke="#111" stroke-width="1.4" />
<text x="36.60" y="0" transform="translate(0 395.80) scale(1 1.05)" font-size="9.7" text-anchor="start" class="rg" fill="#111" >E193D</text>
<text x="340.80" y="0" transform="translate(0 277.40) scale(1 1.05)" font-size="17.6" text-anchor="start" font-weight="bold" fill="#111" >D</text>
<line x1="604.30" y1="302.90" x2="604.30" y2="426.80" stroke="#111" stroke-width="1.4" />
<line x1="423.11" y1="423.30" x2="605.00" y2="423.30" stroke="#111" stroke-width="1.4" />
<line x1="604.30" y1="423.30" x2="607.60" y2="423.30" stroke="#111" stroke-width="1.4" />
<text x="609.90" y="0" transform="translate(0 427.30) scale(1 1.05)" font-size="10" text-anchor="start" font-weight="bold" fill="#111" >0</text>
<line x1="604.30" y1="393.20" x2="607.60" y2="393.20" stroke="#111" stroke-width="1.4" />
<text x="609.90" y="0" transform="translate(0 397.20) scale(1 1.05)" font-size="10" text-anchor="start" font-weight="bold" fill="#111" >1</text>
<line x1="604.30" y1="363.10" x2="607.60" y2="363.10" stroke="#111" stroke-width="1.4" />
<text x="609.90" y="0" transform="translate(0 367.10) scale(1 1.05)" font-size="10" text-anchor="start" font-weight="bold" fill="#111" >2</text>
<line x1="604.30" y1="333.00" x2="607.60" y2="333.00" stroke="#111" stroke-width="1.4" />
<text x="609.90" y="0" transform="translate(0 337.00) scale(1 1.05)" font-size="10" text-anchor="start" font-weight="bold" fill="#111" >3</text>
<line x1="604.30" y1="302.90" x2="607.60" y2="302.90" stroke="#111" stroke-width="1.4" />
<text x="609.90" y="0" transform="translate(0 306.90) scale(1 1.05)" font-size="10" text-anchor="start" font-weight="bold" fill="#111" >4</text>
<line x1="423.11" y1="423.30" x2="423.11" y2="426.80" stroke="#111" stroke-width="1.4" />
<text x="423.11" y="0" transform="translate(0 437.60) scale(1 1.05)" font-size="10" text-anchor="middle" font-weight="bold" fill="#111" >-150</text>
<line x1="483.47" y1="423.30" x2="483.47" y2="426.80" stroke="#111" stroke-width="1.4" />
<text x="483.47" y="0" transform="translate(0 437.60) scale(1 1.05)" font-size="10" text-anchor="middle" font-weight="bold" fill="#111" >-100</text>
<line x1="543.84" y1="423.30" x2="543.84" y2="426.80" stroke="#111" stroke-width="1.4" />
<text x="543.84" y="0" transform="translate(0 437.60) scale(1 1.05)" font-size="10" text-anchor="middle" font-weight="bold" fill="#111" >-50</text>
<line x1="604.20" y1="423.30" x2="604.20" y2="426.80" stroke="#111" stroke-width="1.4" />
<text x="604.20" y="0" transform="translate(0 437.60) scale(1 1.05)" font-size="10" text-anchor="middle" font-weight="bold" fill="#111" >0</text>
<line x1="443.23" y1="423.30" x2="443.23" y2="425.60" stroke="#111" stroke-width="1.1" />
<line x1="463.35" y1="423.30" x2="463.35" y2="425.60" stroke="#111" stroke-width="1.1" />
<line x1="503.59" y1="423.30" x2="503.59" y2="425.60" stroke="#111" stroke-width="1.1" />
<line x1="523.71" y1="423.30" x2="523.71" y2="425.60" stroke="#111" stroke-width="1.1" />
<line x1="563.96" y1="423.30" x2="563.96" y2="425.60" stroke="#111" stroke-width="1.1" />
<line x1="584.08" y1="423.30" x2="584.08" y2="425.60" stroke="#111" stroke-width="1.1" />
<text x="513.50" y="0" transform="translate(0 450.00) scale(1 1.05)" font-size="10.5" text-anchor="middle" font-weight="bold" fill="#111" >V<tspan font-size="7" dy="2.5">m</tspan><tspan dy="-2.5"> (mV)</tspan></text>
<text transform="translate(634.40,386.30) rotate(-90) scale(1 1.05)" font-size="10" font-weight="bold" fill="#111" >K</text>
<text transform="translate(629.90,379.00) rotate(-90) scale(1 1.05)" font-size="6.6" font-weight="bold" fill="#111" >H</text>
<text transform="translate(636.80,374.30) rotate(-90) scale(1 1.05)" font-size="7.8" font-weight="bold" fill="#111" >0.5</text>
<text transform="translate(634.20,359.50) rotate(-90) scale(1 1.05)" font-size="9.5" font-weight="bold" fill="#111" >(<tspan font-weight="normal">μ</tspan>M)</text>
<line x1="423.11" y1="332.20" x2="423.11" y2="339.90" stroke="#111" stroke-width="1.7" />
<line x1="420.96" y1="332.20" x2="425.25" y2="332.20" stroke="#111" stroke-width="1.7" />
<line x1="420.96" y1="339.90" x2="425.25" y2="339.90" stroke="#111" stroke-width="1.7" />
<line x1="447.25" y1="328.10" x2="447.25" y2="341.70" stroke="#111" stroke-width="1.7" />
<line x1="445.10" y1="328.10" x2="449.40" y2="328.10" stroke="#111" stroke-width="1.7" />
<line x1="445.10" y1="341.70" x2="449.40" y2="341.70" stroke="#111" stroke-width="1.7" />
<line x1="471.40" y1="329.50" x2="471.40" y2="345.30" stroke="#111" stroke-width="1.7" />
<line x1="469.25" y1="329.50" x2="473.55" y2="329.50" stroke="#111" stroke-width="1.7" />
<line x1="469.25" y1="345.30" x2="473.55" y2="345.30" stroke="#111" stroke-width="1.7" />
<line x1="495.54" y1="334.70" x2="495.54" y2="344.90" stroke="#111" stroke-width="1.7" />
<line x1="493.39" y1="334.70" x2="497.69" y2="334.70" stroke="#111" stroke-width="1.7" />
<line x1="493.39" y1="344.90" x2="497.69" y2="344.90" stroke="#111" stroke-width="1.7" />
<line x1="519.69" y1="342.50" x2="519.69" y2="349.00" stroke="#111" stroke-width="1.7" />
<line x1="517.54" y1="342.50" x2="521.84" y2="342.50" stroke="#111" stroke-width="1.7" />
<line x1="517.54" y1="349.00" x2="521.84" y2="349.00" stroke="#111" stroke-width="1.7" />
<line x1="543.84" y1="353.90" x2="543.84" y2="366.00" stroke="#111" stroke-width="1.7" />
<line x1="541.69" y1="353.90" x2="545.99" y2="353.90" stroke="#111" stroke-width="1.7" />
<line x1="541.69" y1="366.00" x2="545.99" y2="366.00" stroke="#111" stroke-width="1.7" />
<line x1="567.98" y1="366.40" x2="567.98" y2="372.50" stroke="#111" stroke-width="1.7" />
<line x1="565.83" y1="366.40" x2="570.13" y2="366.40" stroke="#111" stroke-width="1.7" />
<line x1="565.83" y1="372.50" x2="570.13" y2="372.50" stroke="#111" stroke-width="1.7" />
<line x1="592.13" y1="371.70" x2="592.13" y2="382.40" stroke="#111" stroke-width="1.7" />
<line x1="589.98" y1="371.70" x2="594.28" y2="371.70" stroke="#111" stroke-width="1.7" />
<line x1="589.98" y1="382.40" x2="594.28" y2="382.40" stroke="#111" stroke-width="1.7" />
<path d="M423.11,335.80 L447.25,335.00 L471.40,337.40 L495.54,339.90 L519.69,345.70 L543.84,359.60 L567.98,369.70 L592.13,377.00" fill="none" stroke="#111" stroke-width="1.4" stroke-linejoin="round"/>
<path d="M423.11,418.50 L447.25,418.50 L471.40,418.50 L495.54,418.50 L519.69,418.80 L543.84,418.80 L567.98,418.80 L592.13,417.80" fill="none" stroke="#111" stroke-width="1.4" stroke-dasharray="3,2.2" stroke-linejoin="round"/>
<circle cx="423.11" cy="335.80" r="2.5" fill="#111"/>
<circle cx="447.25" cy="335.00" r="2.5" fill="#111"/>
<circle cx="471.40" cy="337.40" r="2.5" fill="#111"/>
<circle cx="495.54" cy="339.90" r="2.5" fill="#111"/>
<circle cx="519.69" cy="345.70" r="2.5" fill="#111"/>
<circle cx="543.84" cy="359.60" r="2.5" fill="#111"/>
<circle cx="567.98" cy="369.70" r="2.5" fill="#111"/>
<circle cx="592.13" cy="377.00" r="2.5" fill="#111"/>
<rect x="420.81" y="416.20" width="4.60" height="4.60" fill="#fff" stroke="#111" stroke-width="2.0"/>
<rect x="444.95" y="416.20" width="4.60" height="4.60" fill="#fff" stroke="#111" stroke-width="2.0"/>
<rect x="469.10" y="416.20" width="4.60" height="4.60" fill="#fff" stroke="#111" stroke-width="2.0"/>
<rect x="493.24" y="416.20" width="4.60" height="4.60" fill="#fff" stroke="#111" stroke-width="2.0"/>
<rect x="517.39" y="416.50" width="4.60" height="4.60" fill="#fff" stroke="#111" stroke-width="2.0"/>
<rect x="541.54" y="416.50" width="4.60" height="4.60" fill="#fff" stroke="#111" stroke-width="2.0"/>
<rect x="565.68" y="416.50" width="4.60" height="4.60" fill="#fff" stroke="#111" stroke-width="2.0"/>
<rect x="589.83" y="415.50" width="4.60" height="4.60" fill="#fff" stroke="#111" stroke-width="2.0"/>
<line x1="344.80" y1="335.20" x2="357.60" y2="335.20" stroke="#111" stroke-width="1.4" />
<circle cx="351.20" cy="335.20" r="2.4" fill="#111"/>
<text x="365.00" y="0" transform="translate(0 338.90) scale(1 1.05)" font-size="10" text-anchor="start" class="rg" fill="#111" >Wt hDMT1</text>
<line x1="356.00" y1="416.60" x2="361.00" y2="416.60" stroke="#111" stroke-width="1.4" />
<rect x="361.40" y="414.60" width="4.00" height="4.00" fill="#fff" stroke="#111" stroke-width="2.0"/>
<line x1="368.30" y1="416.60" x2="369.30" y2="416.60" stroke="#111" stroke-width="1.4" />
<text x="376.50" y="0" transform="translate(0 420.00) scale(1 1.05)" font-size="9.7" text-anchor="start" class="rg" fill="#111" >E193D</text>
</svg></body></html>
